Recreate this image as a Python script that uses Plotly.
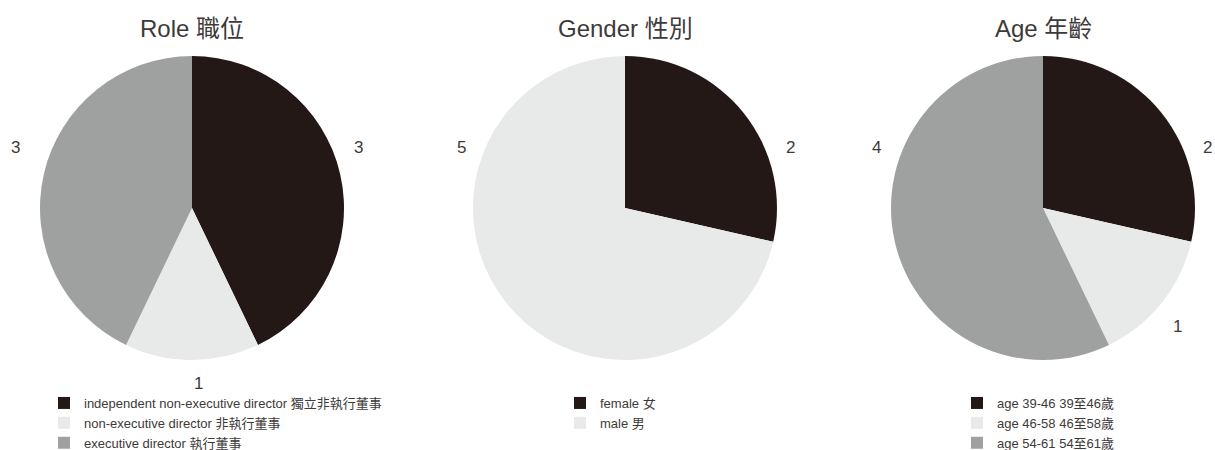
import plotly.graph_objects as go

role_labels = ["independent non-executive director 獨立非執行董事", "non-executive director 非執行董事", "executive director 執行董事"]
role_values = [3, 1, 3]
gender_labels = ["female 女", "male 男"]
gender_values = [2, 5]
age_labels = ["age 39-46 39至46歲", "age 46-58 46至58歲", "age 54-61 54至61歲"]
age_values = [2, 1, 4]
titles = ["Role 職位", "Gender 性別", "Age 年齡"]

colors3 = ["#231815", "#e8e9e9", "#9fa0a0"]
FONT = "Liberation Sans, Arial, Noto Sans CJK TC, sans-serif"
TXT = "#3e3a39"
W, H = 1215, 450

# layout positions (pixels) for the value labels of each pie
role_label_pos = [(358, 147), (198, 383), (15, 147)]
gender_label_pos = [(790, 147), (461, 147)]
age_label_pos = [(1207, 147), (1177, 326), (876, 147)]

def xd(a, b):
    return [a / W, b / W]

def yd(top, bottom):
    return [1 - bottom / H, 1 - top / H]

fig = go.Figure()
specs = [
    (role_labels, role_values, xd(40, 344), "legend", role_label_pos),
    (gender_labels, gender_values, xd(473, 777), "legend2", gender_label_pos),
    (age_labels, age_values, xd(891, 1195), "legend3", age_label_pos),
]
annotations = []
for labels, values, xdom, lg, lpos in specs:
    fig.add_trace(go.Pie(
        labels=labels, values=values, sort=False, direction="clockwise", rotation=0,
        marker=dict(colors=colors3[:len(labels)], line=dict(width=0)),
        textinfo="none",
        domain=dict(x=xdom, y=yd(56, 360)),
        legend=lg, hoverinfo="label+value",
    ))
    for v, (px, py) in zip(values, lpos):
        annotations.append(dict(text=str(v), x=px / W, y=1 - py / H, xref="paper", yref="paper",
                                xanchor="center", yanchor="middle", showarrow=False,
                                font=dict(size=17, color=TXT, family=FONT)))

centers = [192, 625, 1043]
for t, cx in zip(titles, centers):
    annotations.append(dict(text=t, x=cx / W, y=1 - 29 / H, xref="paper", yref="paper",
                            xanchor="center", yanchor="middle", showarrow=False,
                            font=dict(size=24, color=TXT, family=FONT)))

legend_common = dict(font=dict(size=13, color=TXT, family=FONT), bgcolor="rgba(0,0,0,0)",
                     yanchor="top", xanchor="left", y=1 - 388 / H, itemsizing="constant",
                     tracegroupgap=0, itemwidth=30)
fig.update_layout(
    width=W, height=H,
    margin=dict(l=0, r=0, t=0, b=0, autoexpand=False),
    paper_bgcolor="white", plot_bgcolor="white",
    annotations=annotations,
    showlegend=True,
    legend=dict(x=44 / W, **legend_common),
    legend2=dict(x=560 / W, **legend_common),
    legend3=dict(x=957 / W, **legend_common),
    font=dict(family=FONT, color=TXT),
)
fig.write_html("out.html", config={"displayModeBar": False},
               post_script="document.body.style.margin='0px';")
